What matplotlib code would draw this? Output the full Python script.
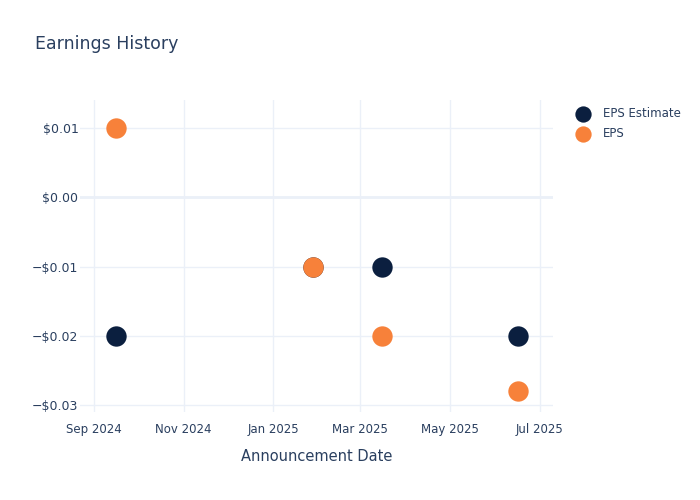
import matplotlib
matplotlib.use("Agg")
import matplotlib.pyplot as plt
import matplotlib.dates as mdates
from matplotlib.ticker import FuncFormatter
import pandas as pd

# data
dates = pd.to_datetime(["2024-09-16", "2025-01-28", "2025-03-16", "2025-06-16"])
eps_estimate = [-0.02, -0.01, -0.01, -0.02]
eps_actual = [0.01, -0.01, -0.02, -0.028]

NAVY = "#0b1f3f"
ORANGE = "#f7813a"
TEXT = "#2a3f5f"
GRID = "#ebf0f8"

plt.rcParams["font.family"] = ["DejaVu Sans"]

fig = plt.figure(figsize=(7, 5), dpi=100)
ax = fig.add_axes([0.114, 0.176, 0.676, 0.624])

ax.scatter(dates, eps_estimate, s=215, color=NAVY, label="EPS Estimate", zorder=3, linewidths=0)
ax.scatter(dates, eps_actual, s=215, color=ORANGE, label="EPS", zorder=4, linewidths=0)

ax.set_xlim(pd.Timestamp("2024-08-22 12:00"), pd.Timestamp("2025-07-09 20:00"))
ax.set_ylim(-0.0310, 0.01406)

ax.xaxis.set_major_locator(mdates.MonthLocator(bymonth=[1, 3, 5, 7, 9, 11]))
ax.xaxis.set_major_formatter(mdates.DateFormatter("%b %Y"))
ax.set_yticks([0.01, 0.0, -0.01, -0.02, -0.03])


def money(v, pos):
    if abs(v) < 1e-9:
        return "$0.00"
    sign = "\u2212" if v < 0 else ""
    return f"{sign}${abs(v):.2f}"


ax.yaxis.set_major_formatter(FuncFormatter(money))

ax.grid(True, color=GRID, linewidth=1)
ax.axhline(0, color=GRID, linewidth=2, zorder=1)
ax.set_axisbelow(True)
for s in ax.spines.values():
    s.set_visible(False)
ax.tick_params(axis="x", length=0, labelsize=8.5, colors=TEXT, pad=8)
ax.tick_params(axis="y", length=0, labelsize=9, colors=TEXT, pad=1)

ax.set_xlabel("Announcement Date", fontsize=10.5, color=TEXT, labelpad=9)

fig.text(0.05, 0.912, "Earnings History", fontsize=12.5, color=TEXT, va="center")

leg = fig.legend(loc="upper left", bbox_to_anchor=(0.809, 0.795), frameon=False,
                 fontsize=8.5, labelcolor=TEXT, handletextpad=0.7, labelspacing=0.55,
                 markerscale=0.8, borderaxespad=0)

fig.savefig("out.png", dpi=100, facecolor="white")
